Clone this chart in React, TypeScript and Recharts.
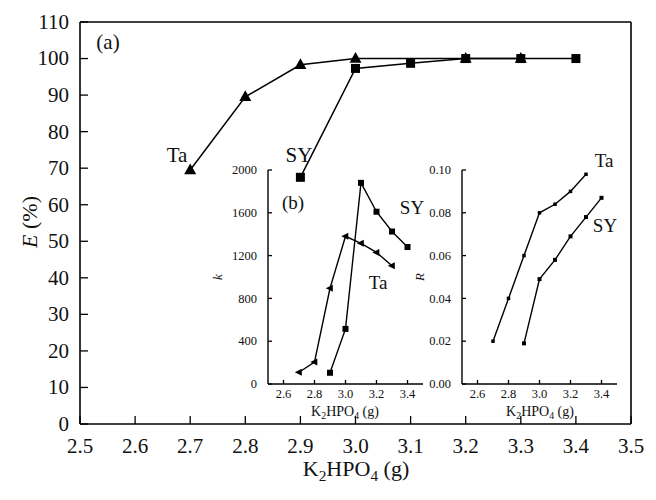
import { LineChart, Line, XAxis, YAxis, ReferenceLine } from 'recharts'

// main panel (a): extraction efficiency E (%)
const mainTicksX = [2.5, 2.6, 2.7, 2.8, 2.9, 3.0, 3.1, 3.2, 3.3, 3.4, 3.5]
const mainTicksY = [0, 10, 20, 30, 40, 50, 60, 70, 80, 90, 100, 110]
const taX = [2.7, 2.8, 2.9, 3.0, 3.2, 3.3]
const taE = [69.5, 89.5, 98.3, 100, 100, 100]
const syX = [2.9, 3.0, 3.1, 3.2, 3.3, 3.4]
const syE = [67.5, 97.3, 98.7, 100, 100, 100]

// inset (b): k and R
const insetTicksX = [2.6, 2.8, 3.0, 3.2, 3.4]
const kTicks = [0, 400, 800, 1200, 1600, 2000]
const rTicks = [0, 0.02, 0.04, 0.06, 0.08, 0.1]
const insetTaX = [2.7, 2.8, 2.9, 3.0, 3.1, 3.2, 3.3]
const insetSyX = [2.9, 3.0, 3.1, 3.2, 3.3, 3.4]
const kTa = [110, 205, 895, 1380, 1315, 1230, 1105]
const kSy = [105, 515, 1880, 1610, 1425, 1280]
const rTa = [0.02, 0.04, 0.06, 0.08, 0.084, 0.09, 0.098]
const rSy = [0.019, 0.049, 0.058, 0.069, 0.078, 0.087]

const FONT = 'Liberation Serif, DejaVu Serif, serif'

const toPoints = (xs: number[], ys: number[]) => xs.map((x, i) => ({ x, y: ys[i] }))

function bottomTick(len: number, size: number, dy: number, fmt: (v: number) => string) {
  return (p: any) => (
    <g key={`bt-${p.index}`}>
      <line x1={p.x} y1={p.y} x2={p.x} y2={p.y - len} stroke="#000" strokeWidth={1.3} />
      <text x={p.x} y={p.y + dy} textAnchor="middle" style={{ fontFamily: FONT, fontSize: size }} fill="#111">
        {fmt(p.payload.value)}
      </text>
    </g>
  )
}

function leftTick(len: number, size: number, gap: number, fmt: (v: number) => string) {
  return (p: any) => (
    <g key={`lt-${p.index}`}>
      <line x1={p.x} y1={p.y} x2={p.x + len} y2={p.y} stroke="#000" strokeWidth={1.3} />
      <text x={p.x - gap} y={p.y + size * 0.33} textAnchor="end" style={{ fontFamily: FONT, fontSize: size }} fill="#111">
        {fmt(p.payload.value)}
      </text>
    </g>
  )
}

const triUp = (s: number) => (p: any) => (
  <polygon
    key={`tu-${p.index}`}
    points={`${p.cx},${p.cy - s * 0.55} ${p.cx - s / 2},${p.cy + s * 0.35} ${p.cx + s / 2},${p.cy + s * 0.35}`}
    fill="#000"
  />
)

const triLeft = (s: number) => (p: any) => (
  <polygon
    key={`tl-${p.index}`}
    points={`${p.cx - s * 0.6},${p.cy} ${p.cx + s * 0.4},${p.cy - s / 2} ${p.cx + s * 0.4},${p.cy + s / 2}`}
    fill="#000"
  />
)

const square = (s: number) => (p: any) => (
  <rect key={`sq-${p.index}`} x={p.cx - s / 2} y={p.cy - s / 2} width={s} height={s} fill="#000" />
)

function Inset({
  left,
  yTicks,
  yWidth,
  yFmt,
  ta,
  sy,
  taDot,
  syDot,
}: {
  left: number
  yTicks: number[]
  yWidth: number
  yFmt: (v: number) => string
  ta: number[]
  sy: number[]
  taDot: (p: any) => any
  syDot: (p: any) => any
}) {
  return (
    <div style={{ position: 'absolute', left, top: 150 }}>
      <LineChart width={240} height={280} margin={{ top: 20, right: 240 - yWidth - 155, left: 0, bottom: 0 }}>
        <XAxis
          dataKey="x"
          type="number"
          domain={[2.5, 3.5]}
          ticks={insetTicksX}
          height={46}
          tickSize={0}
          tickMargin={0}
          tickLine={false}
          axisLine={{ stroke: '#000', strokeWidth: 1.4 }}
          tick={bottomTick(4, 12.5, 14, (v) => v.toFixed(1))}
          allowDuplicatedCategory={false}
        />
        <YAxis
          type="number"
          domain={[yTicks[0], yTicks[yTicks.length - 1]]}
          ticks={yTicks}
          width={yWidth}
          tickSize={0}
          tickMargin={0}
          tickLine={false}
          axisLine={{ stroke: '#000', strokeWidth: 1.4 }}
          tick={leftTick(4, 12.5, 11, yFmt)}
        />
        <Line
          data={toPoints(insetTaX, ta)}
          dataKey="y"
          stroke="#000"
          strokeWidth={1.4}
          dot={taDot}
          activeDot={false}
          isAnimationActive={false}
        />
        <Line
          data={toPoints(insetSyX, sy)}
          dataKey="y"
          stroke="#000"
          strokeWidth={1.4}
          dot={syDot}
          activeDot={false}
          isAnimationActive={false}
        />
      </LineChart>
    </div>
  )
}

const K2HPO4 = ({ x, y, size }: { x: number; y: number; size: number }) => (
  <text x={x} y={y} textAnchor="middle" style={{ fontFamily: FONT, fontSize: size }} fill="#111">
    K<tspan fontSize={size * 0.7} dy={size * 0.22}>2</tspan>
    <tspan dy={-size * 0.22}>HPO</tspan>
    <tspan fontSize={size * 0.7} dy={size * 0.22}>4</tspan>
    <tspan dy={-size * 0.22}> (g)</tspan>
  </text>
)

export default function App() {
  return (
    <div style={{ position: 'absolute', left: 0, top: 0, width: 656, height: 500, background: '#fff' }}>
      <LineChart width={656} height={500} margin={{ top: 22, right: 25, left: 0, bottom: 0 }}>
        <XAxis
          dataKey="x"
          type="number"
          domain={[2.5, 3.5]}
          ticks={mainTicksX}
          height={76}
          tickSize={0}
          tickMargin={0}
          tickLine={false}
          axisLine={{ stroke: '#000', strokeWidth: 1.6 }}
          tick={bottomTick(8, 21, 29, (v) => v.toFixed(1))}
          allowDuplicatedCategory={false}
        />
        <YAxis
          type="number"
          domain={[0, 110]}
          ticks={mainTicksY}
          width={80}
          tickSize={0}
          tickMargin={0}
          tickLine={false}
          axisLine={{ stroke: '#000', strokeWidth: 1.6 }}
          tick={leftTick(8, 21, 11, (v) => String(v))}
        />
        <ReferenceLine y={110} stroke="#000" strokeWidth={1.6} />
        <ReferenceLine x={3.5} stroke="#000" strokeWidth={1.6} />
        <Line
          data={toPoints(taX, taE)}
          dataKey="y"
          stroke="#000"
          strokeWidth={1.5}
          dot={triUp(12)}
          activeDot={false}
          isAnimationActive={false}
        />
        <Line
          data={toPoints(syX, syE)}
          dataKey="y"
          stroke="#000"
          strokeWidth={1.5}
          dot={square(9)}
          activeDot={false}
          isAnimationActive={false}
        />
      </LineChart>

      <Inset left={200} yTicks={kTicks} yWidth={68} yFmt={(v) => String(v)} ta={kTa} sy={kSy} taDot={triLeft(7)} syDot={square(6)} />
      <Inset
        left={400}
        yTicks={rTicks}
        yWidth={62}
        yFmt={(v) => v.toFixed(2)}
        ta={rTa}
        sy={rSy}
        taDot={square(3.5)}
        syDot={square(4)}
      />

      <svg width={656} height={500} style={{ position: 'absolute', left: 0, top: 0, pointerEvents: 'none', fontFamily: FONT }}>
        <g fill="#111">
          <text x={108} y={49} fontSize={21} textAnchor="middle">(a)</text>
          <text x={177} y={162} fontSize={21} textAnchor="middle">Ta</text>
          <text x={299} y={162} fontSize={21} textAnchor="middle">SY</text>
          <text x={293} y={209} fontSize={19} textAnchor="middle">(b)</text>
          <text x={412} y={214} fontSize={19} textAnchor="middle">SY</text>
          <text x={378} y={289} fontSize={19} textAnchor="middle">Ta</text>
          <text x={604} y={167} fontSize={19} textAnchor="middle">Ta</text>
          <text x={605} y={232} fontSize={19} textAnchor="middle">SY</text>
          <text transform="translate(37,222) rotate(-90)" fontSize={22} textAnchor="middle">
            <tspan fontStyle="italic">E</tspan> (%)
          </text>
          <text transform="translate(222,277) rotate(-90)" fontSize={13} fontStyle="italic" textAnchor="middle">k</text>
          <text transform="translate(424,277) rotate(-90)" fontSize={13} fontStyle="italic" textAnchor="middle">R</text>
        </g>
        <K2HPO4 x={356} y={476} size={22} />
        <K2HPO4 x={345} y={416} size={14} />
        <K2HPO4 x={540} y={416} size={14} />
      </svg>
    </div>
  )
}
